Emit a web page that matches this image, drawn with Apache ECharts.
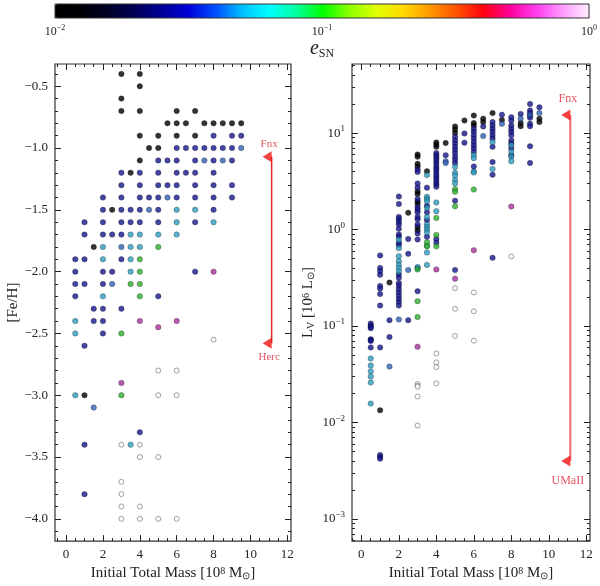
<!DOCTYPE html>
<html><head><meta charset="utf-8">
<script src="https://cdn.jsdelivr.net/npm/echarts@6/dist/echarts.min.js"></script>
<style>html,body{margin:0;padding:0;background:#fff}#c{width:600px;height:586px}</style>
</head><body><div id="c"></div>
<script>
// ---------------- data ----------------
const massTicks = [0, 2, 4, 6, 8, 10, 12];
const fehTicks = [-4.0, -3.5, -3.0, -2.5, -2.0, -1.5, -1.0, -0.5];
const lumTicks = [0.001, 0.01, 0.1, 1, 10];
const cbarTicks = [0.01, 0.1, 1];

// Left panel: [initial mass (1e8 Msun), [Fe/H]]
const fehBlack = [[3,-0.4],[4,-0.4],[4,-0.5],[3,-0.6],[3,-0.7],[4,-0.7],[6,-0.7],[7,-0.7],[5.5,-0.8],[6,-0.8],[6.5,-0.8],[7.5,-0.8],[8,-0.8],[8.5,-0.8],[9,-0.8],[9.5,-0.8],[4,-0.9],[5,-0.9],[6,-0.9],[7,-0.9],[4.5,-1.0],[5,-1.0],[4,-1.1],[3.5,-1.2],[2.5,-1.5],[1.5,-1.8],[1,-3.0]];
const fehNavy = [[8,-0.9],[9,-0.9],[9.5,-0.9],
 [6,-1.0],[6.5,-1.0],[7,-1.0],[7.5,-1.0],[8,-1.0],[8.5,-1.0],[9,-1.0],
 [5,-1.1],[5.5,-1.1],[6,-1.1],[7,-1.1],[8,-1.1],[9,-1.1],
 [3,-1.2],[4,-1.2],[5,-1.2],[6,-1.2],[6.5,-1.2],[7,-1.2],[8,-1.2],
 [3,-1.3],[4,-1.3],[5,-1.3],[5.5,-1.3],[6,-1.3],[7,-1.3],[8,-1.3],[9,-1.3],
 [2,-1.4],[3,-1.4],[4,-1.4],[4.5,-1.4],[5,-1.4],[6,-1.4],[7,-1.4],[8,-1.4],[9,-1.4],
 [2,-1.5],[3,-1.5],[3.5,-1.5],[4,-1.5],[5,-1.5],[8,-1.5],
 [1,-1.6],[2,-1.6],[3,-1.6],[3.5,-1.6],[4,-1.6],[5,-1.6],[7,-1.6],
 [1,-1.7],[2,-1.7],[2.5,-1.7],[3,-1.7],
 [0.5,-1.9],[1,-1.9],[3,-1.9],
 [0.5,-2.0],[2,-2.0],[2.5,-2.0],[7,-2.0],
 [0.5,-2.1],[1,-2.1],[2,-2.1],
 [0.5,-2.2],[5,-2.2],
 [1.5,-2.3],[2,-2.3],[3,-2.3],
 [1.5,-2.4],[2,-2.4],[2,-2.5],[1,-2.6],[4,-3.3],[1,-3.4],[1,-3.8]];
const fehSteel = [[9.5,-1.0],[7.5,-1.1],[8.5,-1.1],[5.5,-1.4],[4.5,-1.5],[3,-1.8],[2.5,-2.1],[1.5,-3.1]];
const fehTeal = [[6,-1.5],[7,-1.5],[6,-1.6],[8,-1.6],[3.5,-1.7],[4,-1.7],[5,-1.7],[6,-1.7],[2,-1.8],[3.5,-1.8],[4,-1.8],[2,-1.9],[3.5,-1.9],[3.5,-2.0],[2,-2.2],[0.5,-2.4],[0.5,-2.5],[0.5,-3.0],[3.5,-3.4]];
const fehGreen = [[5,-1.8],[4,-1.9],[4,-2.0],[3.5,-2.1],[4,-2.1],[4,-2.2],[3,-2.5],[3,-3.0]];
const fehMagenta = [[8,-2.0],[4,-2.4],[6,-2.4],[5,-2.45],[3,-2.9]];
const fehOpen = [[8,-2.55],[5,-2.8],[6,-2.8],[5,-3.0],[6,-3.0],[3,-3.4],[4,-3.4],[4,-3.5],[5,-3.5],[3,-3.7],[3,-3.8],[3,-3.9],[4,-3.9],[3,-4.0],[4,-4.0],[5,-4.0],[6,-4.0]];

// Right panel: [initial mass (1e8 Msun), L_V (1e6 Lsun)]
const lumBlack = [[1,0.0134],[1.5,0.282],[2.5,1.49],[3,6.0],[3,5.7],[3,4.8],[3,4.5],[3,2.48],[3,2.33],[3,1.95],[3,1.84],[3,1.06],[3,0.98],[3.5,4.03],[4,8.0],[4,7.6],[4,7.2],[4.5,7.9],[5,11.7],[5,10.9],[5,10.0],[5.5,13.5],[6,15.2],[6,12.7],[6,12.0],[6.5,14.1],[6.5,13.0],[7,16.1],[7.5,13.7],[8.5,12.7],[8.5,11.8],[9.5,14.1],[9.5,13.0]];
const lumNavy = [
 [0.5,0.106],[0.5,0.101],[0.5,0.098],[0.5,0.095],[0.5,0.073],[0.5,0.0716],[0.5,0.070],[0.5,0.060],
 [1,0.54],[1,0.40],[1,0.37],[1,0.34],[1,0.26],[1,0.245],[1,0.215],[1,0.163],[1,0.060],[1,0.0046],[1,0.0044],[1,0.0042],
 [1.5,0.115],[1.5,0.077],
 [2,2.2],[2,1.84],[2,1.35],[2,1.28],[2,1.2],[2,1.13],[2,1.02],[2,0.89],[2,0.84],[2,0.73],[2,0.69],[2,0.343],[2,0.317],[2,0.28],[2,0.261],[2,0.241],[2,0.223],[2,0.206],[2,0.191],[2,0.177],[2,0.163],
 [2.5,0.80],[2.5,0.56],[2.5,0.115],
 [3,4.2],[3,3.96],[3,3.0],[3,2.72],[3,2.07],[3,1.70],[3,1.60],[3,1.51],[3,1.35],[3,1.28],[3,1.13],[3,0.91],[3,0.79],[3,0.40],[3,0.23],
 [3.5,2.72],[3.5,1.77],[3.5,1.51],[3.5,1.25],[3.5,0.84],
 [4,6.2],[4,5.9],[4,5.6],[4,5.3],[4,5.0],[4,4.7],[4,4.4],[4,4.2],[4,3.96],[4,3.7],[4,3.5],[4,3.3],[4,3.1],[4,2.94],[4,2.77],[4,0.80],[4,0.73],
 [4.5,5.9],
 [5,9.1],[5,8.4],[5,7.8],[5,7.2],[5,6.7],[5,6.2],[5,5.7],[5,5.3],[5,4.9],[5,1.99],[5,0.38],
 [5.5,9.9],[5.5,7.95],
 [6,11.1],[6,10.3],[6,9.5],[6,8.8],[6,8.1],[6,7.5],[6,6.95],[6,6.4],[6,4.5],
 [6.5,11.7],
 [7,13.0],[7,12.0],[7,11.1],[7,10.3],[7,9.5],[7,8.8],[7,7.2],[7,5.0],[7,3.7],[7,0.51],
 [7.5,15.5],
 [8,14.6],[8,13.5],[8,12.0],[8,11.1],[8,10.3],[8,9.5],[8,8.4],[8,7.8],[8,6.95],[8,5.9],
 [8.5,15.8],
 [9,20],[9,17.1],[9,16.1],[9,15.2],[9,14.4],[9,12.5],[9,11.8],[9,7.3],[9,4.9],
 [9.5,18.5]];
const lumSteel = [[1.5,0.038],[2,0.117],[2.5,0.38],[4.5,5.1],[4.5,4.9],[6.5,9.3],[7.5,12.5],[8.5,14.1],[9,15.5],[9.5,16.1]];
const lumTeal = [[0.5,0.046],[0.5,0.039],[0.5,0.034],[0.5,0.030],[0.5,0.026],[0.5,0.0157],[2,0.78],[2,0.64],[2,0.53],[2,0.47],[2,0.43],[2,0.40],[2,0.37],[3,0.41],[3.5,3.67],[3.5,2.19],[3.5,2.07],[3.5,1.96],[3.5,1.67],[3.5,1.35],[3.5,1.13],[3.5,1.06],[3.5,1.0],[3.5,0.93],[3.5,0.68],[3.5,0.58],[3.5,0.43],[4,1.91],[4,1.55],[5,4.46],[5,3.87],[5,3.63],[5,3.26],[5,3.01],[6,5.9],[6,5.5],[6,4.0],[6,3.9],[7,8.1],[7,4.25],[8,7.5],[8,6.4],[8,5.7],[8,5.1]];
const lumGreen = [[3,0.386],[3,0.181],[3,0.124],[3.5,0.74],[3.5,0.67],[4,1.32],[4,0.88],[4,0.67],[5,2.62],[5,2.46],[5,1.74],[6,2.6]];
const lumMagenta = [[3,0.061],[4,0.386],[5,0.31],[6,0.61],[8,1.73]];
const lumOpen = [[3,0.0251],[3,0.0241],[3,0.0235],[3,0.0186],[3,0.0093],[4,0.052],[4,0.042],[4,0.0375],[4,0.0254],[5,0.247],[5,0.151],[5,0.079],[6,0.223],[6,0.142],[6,0.0705],[8,0.527]];

// Observed galaxies (arrow ends)
const fehArrow = {x: 11.15, top: -1.07, bottom: -2.58, topName: 'Fnx', bottomName: 'Herc'};
const lumArrow = {x: 11.15, top: 15.4, bottom: 0.004, topName: 'Fnx', bottomName: 'UMaII'};

// ---------------- style ----------------
const FONT = 'Liberation Serif';
const TXT = '#222';
const C = {black:'#000000', navy:'#15158e', steel:'#2f62b4', teal:'#2e9cc0', green:'#2cb02c', magenta:'#a8309c'};
const cbarColors = ['#000000','#000006','#000028','#000058','#000098','#0000dc','#0050ff','#00c0ff','#00ffff','#00ffa0','#00ff00','#90ff00','#e0ff00','#ffd800','#ff9800','#ff5000','#ff0010','#ff00a0','#ff40f0','#ffa0ff','#fff4ff'];

// minor tick positions
const massMinor = []; for (let i = -1; i <= 24; i++) massMinor.push(i * 0.5);
const fehMinor = []; for (let i = -41; i <= -4; i++) fehMinor.push(+(i / 10).toFixed(1));
const lumMinor = []; for (let e = -4; e <= 1; e++) for (let k = 2; k <= 9; k++) lumMinor.push(+(k * Math.pow(10, e)).toPrecision(3));

const minus = s => String(s).replace('-', '\u2212');
const powLabel = v => { const e = Math.round(Math.log10(v)); return '{b|10}{s|' + minus(e) + '}'; };
const richPow = (b, s) => ({ b: {fontFamily: FONT, fontSize: b, color: TXT, lineHeight: b + 4}, s: {fontFamily: FONT, fontSize: s, color: TXT, lineHeight: s, verticalAlign: 'top'} });
const nameRich = {
  sup: {fontFamily: FONT, fontSize: 10, color: TXT, verticalAlign: 'top', lineHeight: 10},
  sub: {fontFamily: FONT, fontSize: 10, color: TXT, verticalAlign: 'bottom', lineHeight: 10},
  e: {fontFamily: FONT, fontSize: 20, fontStyle: 'italic', color: TXT, lineHeight: 22},
  subl: {fontFamily: FONT, fontSize: 12, color: TXT, verticalAlign: 'bottom', lineHeight: 12}
};

function ax(o) {
  return Object.assign({type: 'value', axisLine: {show: false, onZero: false}, splitLine: {show: false},
    axisLabel: {show: false}, axisTick: {show: false}}, o);
}
function ticks(vals, len) {
  return {show: true, inside: true, length: len, customValues: vals, lineStyle: {color: '#222', width: 1}};
}
function labels(vals, fmt, extra) {
  return Object.assign({show: true, customValues: vals, formatter: fmt, fontFamily: FONT, fontSize: 13, color: TXT, margin: 7}, extra || {});
}

const L = {xmin: -0.6, xmax: 12.2, ymin: -4.18, ymax: -0.32};
const R = {xmin: -0.5, xmax: 12.2, ymin: 5.9e-4, ymax: 52};
const fmtFeh = v => minus(Number(v).toFixed(1));
const fmtInt = v => String(v);

const xName = 'Initial Total Mass [10{sup|8} M{sub|\u2299}]';

const xAxis = [
  // left grid
  ax({gridIndex: 0, position: 'bottom', min: L.xmin, max: L.xmax, axisTick: ticks(massTicks, 6), axisLabel: labels(massTicks, fmtInt),
      name: xName, nameLocation: 'middle', nameGap: 20, nameTextStyle: {fontFamily: FONT, fontSize: 15, color: TXT, rich: nameRich}}),
  ax({gridIndex: 0, position: 'bottom', min: L.xmin, max: L.xmax, axisTick: ticks(massMinor, 3)}),
  ax({gridIndex: 0, position: 'top', min: L.xmin, max: L.xmax, axisTick: ticks(massTicks, 6)}),
  ax({gridIndex: 0, position: 'top', min: L.xmin, max: L.xmax, axisTick: ticks(massMinor, 3)}),
  // right grid
  ax({gridIndex: 1, position: 'bottom', min: R.xmin, max: R.xmax, axisTick: ticks(massTicks, 6), axisLabel: labels(massTicks, fmtInt),
      name: xName, nameLocation: 'middle', nameGap: 20, nameTextStyle: {fontFamily: FONT, fontSize: 15, color: TXT, rich: nameRich}}),
  ax({gridIndex: 1, position: 'bottom', min: R.xmin, max: R.xmax, axisTick: ticks(massMinor, 3)}),
  ax({gridIndex: 1, position: 'top', min: R.xmin, max: R.xmax, axisTick: ticks(massTicks, 6)}),
  ax({gridIndex: 1, position: 'top', min: R.xmin, max: R.xmax, axisTick: ticks(massMinor, 3)}),
  // colour bar
  ax({gridIndex: 2, type: 'log', position: 'bottom', min: 0.01, max: 1, logBase: 10,
      axisTick: ticks(cbarTicks, 4),
      axisLabel: labels(cbarTicks, powLabel, {margin: 6, rich: richPow(12, 8)}),
      name: '{e|e}{subl|SN}', nameLocation: 'middle', nameGap: 20, nameTextStyle: {rich: nameRich}})
];

const yAxis = [
  ax({gridIndex: 0, position: 'left', min: L.ymin, max: L.ymax, axisTick: ticks(fehTicks, 6), axisLabel: labels(fehTicks, fmtFeh),
      name: '[Fe/H]', nameLocation: 'middle', nameGap: 31, nameTextStyle: {fontFamily: FONT, fontSize: 15, color: TXT}}),
  ax({gridIndex: 0, position: 'left', min: L.ymin, max: L.ymax, axisTick: ticks(fehMinor, 3)}),
  ax({gridIndex: 0, position: 'right', min: L.ymin, max: L.ymax, axisTick: ticks(fehTicks, 6)}),
  ax({gridIndex: 0, position: 'right', min: L.ymin, max: L.ymax, axisTick: ticks(fehMinor, 3)}),
  ax({gridIndex: 1, type: 'log', logBase: 10, position: 'left', min: R.ymin, max: R.ymax, axisTick: ticks(lumTicks, 6),
      axisLabel: labels(lumTicks, powLabel, {rich: richPow(13, 9)}),
      name: 'L{sub|V} [10{sup|6} L{sub|\u2299}]', nameLocation: 'middle', nameGap: 36, nameTextStyle: {fontFamily: FONT, fontSize: 15, color: TXT, rich: nameRich}}),
  ax({gridIndex: 1, type: 'log', logBase: 10, position: 'left', min: R.ymin, max: R.ymax, axisTick: ticks(lumMinor, 3)}),
  ax({gridIndex: 1, type: 'log', logBase: 10, position: 'right', min: R.ymin, max: R.ymax, axisTick: ticks(lumTicks, 6)}),
  ax({gridIndex: 1, type: 'log', logBase: 10, position: 'right', min: R.ymin, max: R.ymax, axisTick: ticks(lumMinor, 3)}),
  ax({gridIndex: 2, min: 0, max: 1, show: false})
];

function pts(name, data, g, color) {
  const open = color === null;
  return {
    type: 'scatter', name: name, xAxisIndex: g === 0 ? 0 : 4, yAxisIndex: g === 0 ? 0 : 4,
    data: data, symbol: 'circle', symbolSize: open ? 5 : 5.5, silent: true,
    itemStyle: open ? {color: '#ffffff', borderColor: '#6a6a6a', borderWidth: 0.8}
                    : {color: color, borderColor: 'rgba(0,0,0,0.55)', borderWidth: 0.6},
    z: open ? 2 : 3
  };
}
function arrow(a, g, lineColor, lineW, fs, dTop, dBot) {
  const xi = g === 0 ? 0 : 4;
  return [
    {type: 'line', xAxisIndex: xi, yAxisIndex: xi, data: [[a.x, a.top], [a.x, a.bottom]], symbol: 'none', silent: true,
     lineStyle: {color: lineColor, width: lineW}, z: 4},
    {type: 'scatter', xAxisIndex: xi, yAxisIndex: xi, silent: true, z: 5,
     symbol: 'path://M10,0 L0,5 L10,10 Z', symbolKeepAspect: false, symbolSize: [9, 11], symbolOffset: [-4.5, 0],
     itemStyle: {color: '#ee1111'},
     label: {show: true, formatter: '{b}', fontFamily: FONT, fontSize: fs, color: '#e02a36', offset: [2, 0]},
     data: [{name: a.topName, value: [a.x, a.top], label: {position: 'top', distance: dTop}},
            {name: a.bottomName, value: [a.x, a.bottom], label: {position: 'bottom', distance: dBot}}]}
  ];
}

const series = [
  pts('open', fehOpen, 0, null), pts('black', fehBlack, 0, C.black), pts('navy', fehNavy, 0, C.navy),
  pts('steel', fehSteel, 0, C.steel), pts('teal', fehTeal, 0, C.teal), pts('green', fehGreen, 0, C.green), pts('magenta', fehMagenta, 0, C.magenta),
  pts('open', lumOpen, 1, null), pts('black', lumBlack, 1, C.black), pts('navy', lumNavy, 1, C.navy),
  pts('steel', lumSteel, 1, C.steel), pts('teal', lumTeal, 1, C.teal), pts('green', lumGreen, 1, C.green), pts('magenta', lumMagenta, 1, C.magenta),
  ...arrow(fehArrow, 0, '#e3262b', 1.5, 11, 2, 3),
  ...arrow(lumArrow, 1, '#f06a6c', 2, 12, 5, 8),
  {type: 'scatter', xAxisIndex: 8, yAxisIndex: 8, data: [], silent: true}
];
const dummyIndex = series.length - 1;

const option = {
  animation: false,
  backgroundColor: '#ffffff',
  textStyle: {fontFamily: FONT},
  grid: [
    {left: 55, top: 64, width: 236, height: 486, show: true, borderColor: '#333', borderWidth: 1.2, backgroundColor: 'transparent'},
    {left: 352, top: 64, width: 238, height: 486, show: true, borderColor: '#333', borderWidth: 1.2, backgroundColor: 'transparent'},
    {left: 55, top: 4, width: 536, height: 14, show: true, borderColor: '#333', borderWidth: 1, backgroundColor: 'transparent', z: 10}
  ],
  visualMap: {
    type: 'continuous', min: -2, max: 0, orient: 'horizontal', left: 55, top: 4, itemWidth: 14, itemHeight: 536,
    calculable: false, showLabel: false, padding: 0, hoverLink: false, seriesIndex: [dummyIndex],
    inRange: {color: cbarColors}
  },
  xAxis: xAxis,
  yAxis: yAxis,
  series: series
};
const chart = echarts.init(document.getElementById('c'), null, {renderer: 'canvas'});
chart.setOption(option);
</script></body></html>
